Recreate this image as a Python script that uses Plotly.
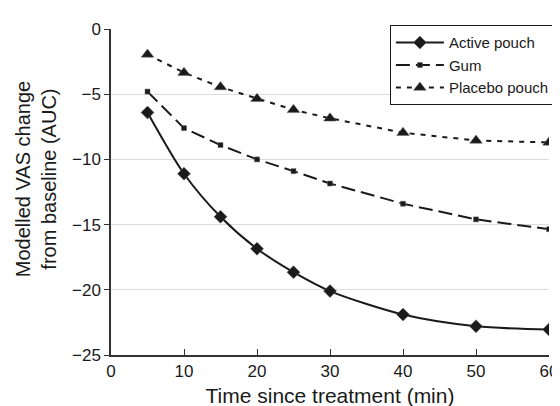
import plotly.graph_objects as go

time = [5, 10, 15, 20, 25, 30, 40, 50, 60]
active_pouch = [-6.4, -11.1, -14.4, -16.85, -18.65, -20.1, -21.9, -22.8, -23.05]
gum = [-4.8, -7.6, -8.9, -10.0, -10.9, -11.85, -13.4, -14.6, -15.35]
placebo_pouch = [-1.95, -3.35, -4.45, -5.35, -6.2, -6.85, -7.95, -8.55, -8.7]

y_ticks = [0, -5, -10, -15, -20, -25]
x_ticks = [0, 10, 20, 30, 40, 50, 60]

ink = "#1a1a1a"

fig = go.Figure()
fig.add_trace(go.Scatter(
    x=time, y=active_pouch, name="Active pouch", mode="lines+markers",
    line=dict(color=ink, width=2, shape="spline", smoothing=0.8),
    marker=dict(symbol="diamond", size=10, color=ink, line=dict(color="#666", width=0.5)),
))
fig.add_trace(go.Scatter(
    x=time, y=gum, name="Gum", mode="lines+markers",
    line=dict(color=ink, width=2, dash="14px,6px"),
    marker=dict(symbol="square", size=5, color=ink, line=dict(color="#666", width=0.5)),
))
fig.add_trace(go.Scatter(
    x=time, y=placebo_pouch, name="Placebo pouch", mode="lines+markers",
    line=dict(color=ink, width=2, dash="5px,6px"),
    marker=dict(symbol="triangle-up", size=11, color=ink, line=dict(color="#666", width=0.5)),
))

fig.add_annotation(
    text="Modelled VAS change<br>from baseline (AUC)",
    xref="paper", yref="paper", x=-0.172, y=0.538,
    xanchor="center", yanchor="middle", textangle=-90,
    showarrow=False, font=dict(size=20, color=ink),
)

fig.update_layout(
    width=560, height=406,
    margin=dict(l=103, r=10, t=21, b=58),
    paper_bgcolor="white", plot_bgcolor="white",
    font=dict(family="Liberation Sans, Arial, sans-serif", color=ink, size=16),
    showlegend=True,
    legend=dict(
        x=1.013, y=1.012, xanchor="right", yanchor="top",
        bordercolor=ink, borderwidth=1.2, bgcolor="white",
        font=dict(size=15), tracegroupgap=0, itemwidth=48,
    ),
    xaxis=dict(
        range=[0, 60], tickvals=x_ticks, ticks="inside", ticklen=6,
        tickcolor="#333", showline=True, linecolor="#333", linewidth=1.5,
        showgrid=False, zeroline=False,
        title=dict(text="Time since treatment (min)", font=dict(size=21), standoff=8),
        tickfont=dict(size=17),
    ),
    yaxis=dict(
        range=[-25, 0], tickvals=y_ticks, ticks="outside", ticklen=5,
        tickcolor="#333", showline=True, linecolor="#333", linewidth=1.5,
        showgrid=True, gridcolor="#dcdcdc", gridwidth=1, zeroline=False,
        tickfont=dict(size=17),
    ),
)

fig.write_html("out.html")
